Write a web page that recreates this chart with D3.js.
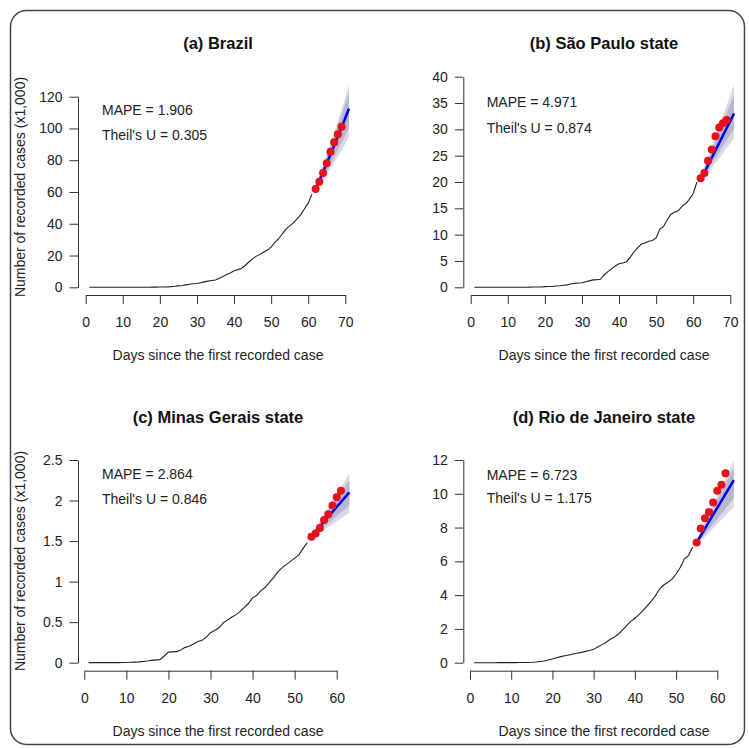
<!DOCTYPE html>
<html>
<head>
<meta charset="utf-8">
<script src="https://cdn.jsdelivr.net/npm/d3@7"></script>
<style>
  body { margin: 0; background: #fff; }
  svg { display: block; font-family: "Liberation Sans", Arial, sans-serif; }
</style>
</head>
<body>
<div id="chart"></div>
<script>
// All values are recorded cases in thousands (x1,000)

// (a) Brazil - days 1..61 observed, 62..69 test, 62..71 forecast
const brazilObserved = [0.001, 0.001, 0.001, 0.001, 0.002, 0.002, 0.002, 0.002, 0.003, 0.008,
  0.013, 0.019, 0.025, 0.025, 0.034, 0.052, 0.077, 0.098, 0.121, 0.2,
  0.234, 0.291, 0.428, 0.621, 0.904, 1.128, 1.546, 1.891, 2.201, 2.433,
  2.915, 3.417, 3.904, 4.256, 4.579, 5.717, 6.836, 8.044, 9.056, 10.36,
  11.13, 12.056, 13.717, 15.927, 17.857, 19.638, 20.727, 22.169, 23.43, 25.262,
  28.32, 30.425, 33.682, 36.599, 38.654, 40.581, 43.079, 45.757, 49.492, 52.995, 58.509];
const brazilTest = [61.888, 66.501, 71.886, 78.162, 85.38, 91.299, 96.396, 101.147];
const brazilForecast = [62.0, 67.3, 72.7, 78.1, 83.6, 89.2, 94.9, 100.7, 106.6, 112.6];
const brazilLo95 = [60.3, 63.7, 67.3, 70.9, 74.6, 78.4, 82.3, 86.3, 90.4, 94.6];
const brazilHi95 = [63.5, 70.2, 77.0, 83.8, 90.7, 97.7, 104.8, 112.0, 119.3, 127.3];
const brazilLo80 = [60.9, 65.0, 69.1, 73.3, 77.6, 82.0, 86.5, 91.1, 95.8, 100.6];
const brazilHi80 = [63.0, 69.3, 75.7, 82.1, 88.6, 95.2, 101.9, 108.7, 115.6, 122.6];

// (b) São Paulo state
const spObserved = [0.001, 0.001, 0.001, 0.001, 0.002, 0.002, 0.002, 0.002, 0.003, 0.006,
  0.01, 0.013, 0.016, 0.016, 0.019, 0.03, 0.046, 0.056, 0.065, 0.136,
  0.152, 0.164, 0.24, 0.286, 0.396, 0.459, 0.631, 0.745, 0.81, 0.862,
  1.052, 1.223, 1.406, 1.451, 1.517, 2.339, 2.981, 3.506, 4.048, 4.466,
  4.62, 4.866, 5.682, 6.708, 7.48, 8.216, 8.419, 8.755, 8.895, 9.371,
  11.043, 11.568, 12.841, 13.894, 14.267, 14.58, 15.385, 15.914, 16.74, 17.826, 20.004];
const spTest = [20.715, 21.696, 24.041, 26.158, 28.698, 30.374, 31.174, 31.772];
const spForecast = [20.4, 21.8, 23.2, 24.6, 26.0, 27.4, 28.8, 30.2, 31.6, 33.0];
const spLo95 = [19.9, 20.8, 21.7, 22.6, 23.6, 24.5, 25.4, 26.4, 27.3, 28.3];
const spHi95 = [20.9, 22.9, 24.8, 26.8, 28.7, 30.6, 32.6, 34.5, 36.5, 38.4];
const spLo80 = [20.1, 21.2, 22.3, 23.5, 24.6, 25.7, 26.8, 27.9, 29.0, 30.1];
const spHi80 = [20.75, 22.5, 24.25, 26.0, 27.75, 29.5, 31.25, 33.0, 34.75, 36.5];

// (c) Minas Gerais state - days 1..53 observed, 54..61 test, 54..63 forecast
const mgObserved = [0.001, 0.001, 0.001, 0.001, 0.001, 0.001, 0.001, 0.001, 0.002, 0.003,
  0.005, 0.007, 0.01, 0.015, 0.021, 0.029, 0.035, 0.038, 0.083, 0.13,
  0.133, 0.136, 0.16, 0.189, 0.205, 0.231, 0.262, 0.276, 0.315, 0.37,
  0.397, 0.43, 0.49, 0.525, 0.56, 0.59, 0.63, 0.68, 0.73, 0.8,
  0.83, 0.89, 0.93, 0.99, 1.05, 1.12, 1.17, 1.21, 1.25, 1.29,
  1.33, 1.41, 1.48];
const mgTest = [1.554, 1.595, 1.66, 1.76, 1.83, 1.94, 2.04, 2.12];
const mgForecast = [1.56, 1.62, 1.68, 1.74, 1.8, 1.86, 1.92, 1.98, 2.04, 2.1];
const mgLo95 = [1.535, 1.57, 1.605, 1.64, 1.675, 1.71, 1.745, 1.78, 1.815, 1.85];
const mgHi95 = [1.583, 1.666, 1.749, 1.832, 1.915, 1.998, 2.081, 2.164, 2.247, 2.33];
const mgLo80 = [1.544, 1.588, 1.632, 1.676, 1.72, 1.764, 1.808, 1.852, 1.896, 1.94];
const mgHi80 = [1.575, 1.65, 1.725, 1.8, 1.875, 1.95, 2.025, 2.1, 2.175, 2.25];

// (d) Rio de Janeiro state - days 1..54 observed, 55..62 test, 55..64 forecast
const rjObserved = [0.001, 0.001, 0.001, 0.001, 0.001, 0.001, 0.002, 0.002, 0.003, 0.003,
  0.005, 0.008, 0.012, 0.016, 0.025, 0.04, 0.07, 0.1, 0.16, 0.22,
  0.29, 0.36, 0.41, 0.46, 0.51, 0.56, 0.61, 0.67, 0.72, 0.79,
  0.93, 1.07, 1.2, 1.39, 1.5, 1.7, 1.93, 2.2, 2.45, 2.62,
  2.84, 3.1, 3.37, 3.65, 3.97, 4.36, 4.6, 4.76, 4.95, 5.25,
  5.64, 6.14, 6.34, 6.83];
const rjTest = [7.12, 7.95, 8.55, 8.92, 9.49, 10.18, 10.54, 11.21];
const rjForecast = [7.12, 7.53, 7.94, 8.35, 8.76, 9.17, 9.58, 9.99, 10.4, 10.81];
const rjLo95 = [6.96, 7.21, 7.46, 7.71, 7.96, 8.21, 8.46, 8.71, 8.96, 9.21];
const rjHi95 = [7.235, 7.76, 8.285, 8.81, 9.335, 9.86, 10.385, 10.91, 11.435, 11.96];
const rjLo80 = [7.02, 7.32, 7.62, 7.92, 8.22, 8.52, 8.82, 9.12, 9.42, 9.72];
const rjHi80 = [7.195, 7.68, 8.165, 8.65, 9.135, 9.62, 10.105, 10.59, 11.075, 11.56];

const titles = ["(a) Brazil", "(b) São Paulo state", "(c) Minas Gerais state", "(d) Rio de Janeiro state"];
const mapeValues = ["1.906", "4.971", "2.864", "6.723"];
const theilValues = ["0.305", "0.874", "0.846", "1.175"];
const xTicksLong = [0, 10, 20, 30, 40, 50, 60, 70];
const xTicksShort = [0, 10, 20, 30, 40, 50, 60];
const yTicksBrazil = [0, 20, 40, 60, 80, 100, 120];
const yTicksSp = [0, 5, 10, 15, 20, 25, 30, 35, 40];
const yTicksMg = [0, 0.5, 1, 1.5, 2, 2.5];
const yTicksRj = [0, 2, 4, 6, 8, 10, 12];

const width = 749, height = 748;

const svg = d3.select("#chart").append("svg")
  .attr("width", width)
  .attr("height", height);

// outer frame
svg.append("rect")
  .attr("x", 10.5).attr("y", 10.5)
  .attr("width", 734).attr("height", 734)
  .attr("rx", 16)
  .attr("fill", "none")
  .attr("stroke", "#444")
  .attr("stroke-width", 1.5);

// layout for each panel (pixel positions)
const panels = [
  { i: 0, obs: brazilObserved, test: brazilTest, fc: brazilForecast, lo95: brazilLo95, hi95: brazilHi95,
    lo80: brazilLo80, hi80: brazilHi80, start: 62, xTicks: xTicksLong, yTicks: yTicksBrazil,
    xr: [85.7, 345.3], yr: [287.3, 96.7], axX: 78, axY: 295, cx: 218, titleY: 49, labY: 360,
    txtX: 102, txtY: [115, 140], yLabel: 187 },
  { i: 1, obs: spObserved, test: spTest, fc: spForecast, lo95: spLo95, hi95: spHi95,
    lo80: spLo80, hi80: spHi80, start: 62, xTicks: xTicksLong, yTicks: yTicksSp,
    xr: [470.7, 730.3], yr: [287.3, 76.7], axX: 463.3, axY: 295, cx: 604, titleY: 49, labY: 360,
    txtX: 486.7, txtY: [107, 133], yLabel: null },
  { i: 2, obs: mgObserved, test: mgTest, fc: mgForecast, lo95: mgLo95, hi95: mgHi95,
    lo80: mgLo80, hi80: mgHi80, start: 54, xTicks: xTicksShort, yTicks: yTicksMg,
    xr: [84.3, 336.7], yr: [662.7, 460], axX: 78, axY: 670.7, cx: 218, titleY: 423, labY: 736,
    txtX: 102, txtY: [479, 503.5], yLabel: 561 },
  { i: 3, obs: rjObserved, test: rjTest, fc: rjForecast, lo95: rjLo95, hi95: rjHi95,
    lo80: rjLo80, hi80: rjHi80, start: 55, xTicks: xTicksShort, yTicks: yTicksRj,
    xr: [470, 717.3], yr: [662.7, 460], axX: 463.3, axY: 670.7, cx: 604, titleY: 423, labY: 736,
    txtX: 486.7, txtY: [480, 502.5], yLabel: null }
];

panels.forEach(p => drawPanel(p));

function drawPanel(p) {
  const g = svg.append("g");

  const x = d3.scaleLinear()
    .domain([p.xTicks[0], p.xTicks[p.xTicks.length - 1]])
    .range(p.xr);
  const y = d3.scaleLinear()
    .domain([p.yTicks[0], p.yTicks[p.yTicks.length - 1]])
    .range(p.yr);

  // forecast bands
  const fcRows = p.fc.map((v, k) => ({
    day: p.start + k, f: v,
    lo95: p.lo95[k], hi95: p.hi95[k], lo80: p.lo80[k], hi80: p.hi80[k]
  }));

  g.append("path")
    .datum(fcRows)
    .attr("fill", "#d8d9e4")
    .attr("d", d3.area().x(d => x(d.day)).y0(d => y(d.lo95)).y1(d => y(d.hi95)));

  g.append("path")
    .datum(fcRows)
    .attr("fill", "#b4b8d0")
    .attr("d", d3.area().x(d => x(d.day)).y0(d => y(d.lo80)).y1(d => y(d.hi80)));

  // forecast line
  g.append("path")
    .datum(fcRows)
    .attr("fill", "none")
    .attr("stroke", "#0000ee")
    .attr("stroke-width", 2.5)
    .attr("d", d3.line().x(d => x(d.day)).y(d => y(d.f)));

  // observed series
  g.append("path")
    .datum(p.obs)
    .attr("fill", "none")
    .attr("stroke", "#222")
    .attr("stroke-width", 1.1)
    .attr("d", d3.line().x((d, k) => x(k + 1)).y(d => y(d)));

  // test set points
  g.selectAll(".pt")
    .data(p.test)
    .enter().append("circle")
    .attr("cx", (d, k) => x(p.start + k))
    .attr("cy", d => y(d))
    .attr("r", 4)
    .attr("fill", "#e8101a");

  // axes
  const yAxis = g.append("g")
    .attr("transform", "translate(" + p.axX + ",0)")
    .call(d3.axisLeft(y).tickValues(p.yTicks).tickSizeInner(8.5).tickSizeOuter(0)
      .tickPadding(7).tickFormat(d => String(d)));

  const xAxis = g.append("g")
    .attr("transform", "translate(0," + p.axY + ")")
    .call(d3.axisBottom(x).tickValues(p.xTicks).tickSizeInner(9).tickSizeOuter(0)
      .tickPadding(13).tickFormat(d => String(d)));

  [yAxis, xAxis].forEach(a => {
    a.attr("color", "#333")
      .selectAll("text")
      .attr("fill", "#222")
      .style("font-size", "14px")
      .style("font-family", "'Liberation Sans', Arial, sans-serif");
  });

  // title
  g.append("text")
    .attr("x", p.cx).attr("y", p.titleY)
    .attr("text-anchor", "middle")
    .style("font-size", "16.5px")
    .style("font-weight", "bold")
    .attr("fill", "#111")
    .text(titles[p.i]);

  // x label
  g.append("text")
    .attr("x", p.cx).attr("y", p.labY)
    .attr("text-anchor", "middle")
    .style("font-size", "14px")
    .attr("fill", "#222")
    .text("Days since the first recorded case");

  // y label (left column only)
  if (p.yLabel !== null) {
    g.append("text")
      .attr("transform", "translate(25," + p.yLabel + ") rotate(-90)")
      .attr("text-anchor", "middle")
      .style("font-size", "14px")
      .attr("fill", "#222")
      .text("Number of recorded cases (x1,000)");
  }

  // error metrics
  g.append("text")
    .attr("x", p.txtX).attr("y", p.txtY[0])
    .style("font-size", "14px")
    .attr("fill", "#222")
    .text("MAPE = " + mapeValues[p.i]);
  g.append("text")
    .attr("x", p.txtX).attr("y", p.txtY[1])
    .style("font-size", "14px")
    .attr("fill", "#222")
    .text("Theil's U = " + theilValues[p.i]);
}
</script>
</body>
</html>
